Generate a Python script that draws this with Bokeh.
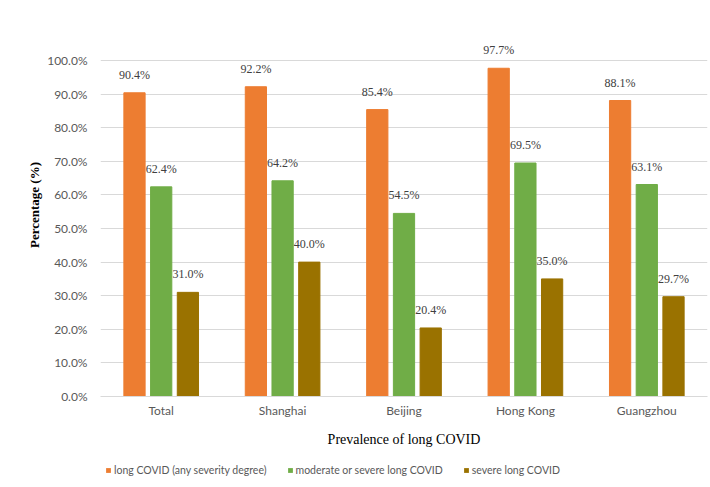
from bokeh.plotting import figure
from bokeh.layouts import column
from bokeh.models import (FactorRange, Range1d, FixedTicker, PrintfTickFormatter,
                          ColumnDataSource, LabelSet, Legend, LegendItem)
from bokeh.transform import dodge
from bokeh.embed import file_html
from bokeh.resources import INLINE

cities = ["Total", "Shanghai", "Beijing", "Hong Kong", "Guangzhou"]
any_severity = [90.4, 92.2, 85.4, 97.7, 88.1]
moderate_severe = [62.4, 64.2, 54.5, 69.5, 63.1]
severe = [31.0, 40.0, 20.4, 35.0, 29.7]
series_names = ["long COVID (any severity degree)", "moderate or severe long COVID", "severe long COVID"]
colors = ["#ED7D31", "#70AD47", "#9A7200"]
yticks = [0, 10, 20, 30, 40, 50, 60, 70, 80, 90, 100]

src = ColumnDataSource(dict(
    city=cities, a=any_severity, m=moderate_severe, s=severe,
    al=[f"{v:.1f}%" for v in any_severity],
    ml=[f"{v:.1f}%" for v in moderate_severe],
    sl=[f"{v:.1f}%" for v in severe],
))

p = figure(width=710, height=458, x_range=FactorRange(*cities), y_range=Range1d(0, 114),
           output_backend="svg", toolbar_location=None,
           min_border_left=100, min_border_right=3, min_border_top=13, min_border_bottom=62)
p.outline_line_color = None
p.background_fill_color = "white"
p.border_fill_color = "white"

FONT = "Lato"
offs = [-0.22, 0.0, 0.22]
cols = ["a", "m", "s"]
lcols = ["al", "ml", "sl"]
for off, c, lc, col in zip(offs, cols, lcols, colors):
    p.vbar(x=dodge("city", off, range=p.x_range), top=c, width=0.175, source=src,
           fill_color=col, line_color=col)
    lab = LabelSet(x=dodge("city", off, range=p.x_range), y=c, text=lc, source=src,
                   text_align="center", text_baseline="bottom", y_offset=11,
                   text_font=FONT, text_font_size="12px", text_color="#404040")
    p.add_layout(lab)

p.yaxis.ticker = FixedTicker(ticks=yticks)
p.yaxis.formatter = PrintfTickFormatter(format="%.1f%%")
p.yaxis.axis_line_color = None
p.yaxis.major_tick_line_color = None
p.yaxis.minor_tick_line_color = None
p.yaxis.major_label_text_font = FONT
p.yaxis.major_label_text_font_size = "12px"
p.yaxis.major_label_text_color = "#595959"
p.yaxis.major_label_standoff = 7
p.yaxis.axis_label = "Percentage (%)"
p.yaxis.axis_label_text_font = "Liberation Serif"
p.yaxis.axis_label_text_font_style = "bold"
p.yaxis.axis_label_text_font_size = "13px"
p.yaxis.axis_label_text_color = "#000000"
p.yaxis.axis_label_standoff = 2

p.xaxis.axis_line_color = "#d9d9d9"
p.xaxis.major_tick_line_color = None
p.xaxis.minor_tick_line_color = None
p.xaxis.major_label_text_font = FONT
p.xaxis.major_label_text_font_size = "12px"
p.xaxis.major_label_text_color = "#595959"
p.xaxis.major_label_standoff = 0
p.xaxis.axis_label = "Prevalence of long COVID"
p.xaxis.axis_label_text_font = "Liberation Serif"
p.xaxis.axis_label_text_font_style = "normal"
p.xaxis.axis_label_text_font_size = "14px"
p.xaxis.axis_label_text_color = "#000000"
p.xaxis.axis_label_standoff = 11

p.xgrid.grid_line_color = None
p.ygrid.grid_line_color = "#d9d9d9"
p.ygrid.ticker = FixedTicker(ticks=yticks[1:])

# legend strip
p2 = figure(width=710, height=29, x_range=Range1d(0, 1), y_range=Range1d(0, 1),
            output_backend="svg", toolbar_location=None,
            x_axis_location=None, y_axis_location=None,
            min_border_left=0, min_border_right=0, min_border_top=0, min_border_bottom=0)
p2.grid.visible = False
p2.outline_line_color = None
rends = [p2.vbar(x=[0.5], top=[0.5], bottom=[0.5], width=0, fill_color=col, line_color=None)
         for col in colors]
legend = Legend(items=[LegendItem(label=n, renderers=[r]) for n, r in zip(series_names, rends)],
                orientation="horizontal", location=(5, 11),
                glyph_width=6, glyph_height=6, label_standoff=3, spacing=20,
                label_text_font=FONT, label_text_font_size="10.5px", label_text_color="#595959",
                border_line_color=None, background_fill_alpha=0, padding=0, margin=0)
p2.add_layout(legend, "center")

layout = column(p, p2, spacing=0)
out = file_html(layout, INLINE)
open("out.html", "w").write(out)
